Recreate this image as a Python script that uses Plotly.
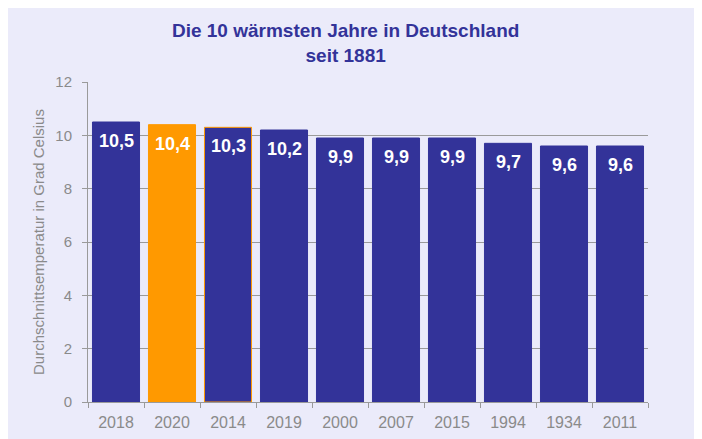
import plotly.graph_objects as go

years = ["2018", "2020", "2014", "2019", "2000", "2007", "2015", "1994", "1934", "2011"]
temps = [10.5, 10.4, 10.3, 10.2, 9.9, 9.9, 9.9, 9.7, 9.6, 9.6]
highlight = "2020"

blue = "#333399"
orange = "#FF9900"
bar_colors = [orange if y == highlight else blue for y in years]
line_colors = [orange if y in ("2020", "2014") else blue for y in years]

fig = go.Figure()
fig.add_trace(go.Bar(
    x=years, y=temps,
    marker=dict(color=bar_colors, line=dict(color=line_colors, width=1)),
    hoverinfo="skip",
))

# value labels (x given as category index on the category axis)
for i, t in enumerate(temps):
    fig.add_annotation(
        x=i, y=t, xref="x", yref="y",
        text="<b>" + f"{t:.1f}".replace(".", ",") + "</b>",
        showarrow=False, yanchor="top", yshift=-7,
        font=dict(family="Liberation Sans, Arial", size=18, color="white"),
    )

fig.update_layout(
    width=702, height=439,
    margin=dict(l=80, r=62, t=74, b=45),
    paper_bgcolor="#EBEBFA",
    plot_bgcolor="rgba(0,0,0,0)",
    bargap=0.16,
    showlegend=False,
    font=dict(family="Liberation Sans, Arial", color="#8a8a8a"),
    title=dict(
        text="<b>Die 10 wärmsten Jahre in Deutschland<br>seit 1881</b>",
        x=0.481, xanchor="center", xref="container",
        y=0.933, yanchor="middle",
        font=dict(family="Liberation Sans, Arial", size=19, color=blue),
    ),
)

fig.update_yaxes(
    range=[0, 12], dtick=2, tick0=0,
    automargin=False,
    showgrid=True, gridcolor="#9a9a9a", gridwidth=1,
    showline=True, linecolor="#9a9a9a", linewidth=1,
    ticks="outside", ticklen=5, tickcolor="#9a9a9a",
    ticklabelstandoff=7,
    tickfont=dict(size=15, color="#8a8a8a"),
    title=dict(text="Durchschnittsemperatur in Grad Celsius",
               font=dict(size=15, color="#8a8a8a"), standoff=7),
    zeroline=False,
)
fig.update_xaxes(
    type="category",
    categoryorder="array", categoryarray=years,
    range=[-0.5, len(years) - 0.5],
    automargin=False,
    showline=True, linecolor="#9a9a9a", linewidth=1,
    ticks="outside", ticklen=5, tickcolor="#9a9a9a",
    tickson="boundaries",
    ticklabelstandoff=6,
    tickangle=0,
    tickfont=dict(size=16, color="#8a8a8a"),
)

fig.write_html("out.html")
